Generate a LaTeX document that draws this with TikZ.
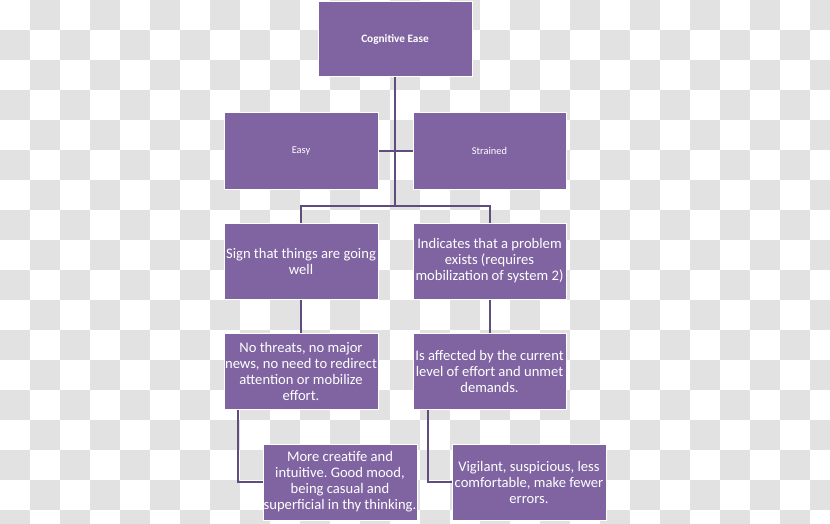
\documentclass[tikz,border=0pt]{standalone}
\usepackage{fontspec}
\setmainfont{Carlito}
\frenchspacing
\definecolor{boxpurple}{RGB}{128,100,162}
\definecolor{linepurple}{RGB}{95,78,125}
\definecolor{checkgray}{RGB}{226,226,226}
\tikzset{
  box/.style={draw=white, line width=1pt, fill=boxpurple, text=white, align=center,
    minimum width=154pt, minimum height=76pt, inner sep=0pt},
  bigtext/.style={font=\fontsize{14.6}{16}\selectfont},
  smalltext/.style={font=\fontsize{10.4}{12}\selectfont},
  conn/.style={draw=linepurple, line width=2pt}
}
\begin{document}
\begin{tikzpicture}[x=1pt,y=-1pt]
\useasboundingbox (0,0) rectangle (830,524);
\fill[white] (0,0) rectangle (830,524);
\begin{scope}
\clip (0,0) rectangle (830,524);
\foreach \j in {0,...,17}{
  \foreach \i in {0,...,27}{
    \pgfmathtruncatemacro\pp{mod(\i+\j,2)}
    \ifnum\pp=1 \fill[checkgray] (\i*30,\j*30) rectangle ++(30,30); \fi
  }
}
\end{scope}

\node[box, minimum height=75pt, font=\fontsize{11.3}{13}\selectfont\bfseries] (ce) at (395,39.5) {Cognitive Ease};
\node[box, smalltext] (easy) at (301,151) {Easy};
\node[box, minimum width=153pt, smalltext] (strained) at (489.5,151) {Strained};
\node[box, bigtext] (sign) at (301,261) {Sign that things are going\\well};
\node[box, minimum width=153pt, bigtext] (indicates) at (489.5,261) {Indicates that a problem\\exists (requires\\mobilization of system 2)};
\node[box, bigtext] (nothreats) at (301,371) {No threats, no major\\news, no need to redirect\\attention or mobilize\\effort.};
\node[box, minimum width=153pt, bigtext] (affected) at (489.5,371) {Is affected by the current\\level of effort and unmet\\demands.};
\node[box, bigtext] (more) at (340,482) {More creatife and\\intuitive. Good mood,\\being casual and\\superficial in thy thinking.};
\node[box, bigtext] (vigilant) at (529,482) {Vigilant, suspicious, less\\comfortable, make fewer\\errors.};

\coordinate (bar) at (395,206);
\draw[conn] (ce.south) -- (bar);
\draw[conn] (bar) -| (sign.north);
\draw[conn] (bar) -| (indicates.north);
\draw[conn] (easy.east) -- (strained.west);
\draw[conn] (sign.south) -- (nothreats.north);
\draw[conn] (indicates.south) -- (affected.north);
\draw[conn] ([xshift=14pt]nothreats.south west) |- (more.west);
\draw[conn] ([xshift=15pt]affected.south west) |- (vigilant.west);
\end{tikzpicture}
\end{document}
